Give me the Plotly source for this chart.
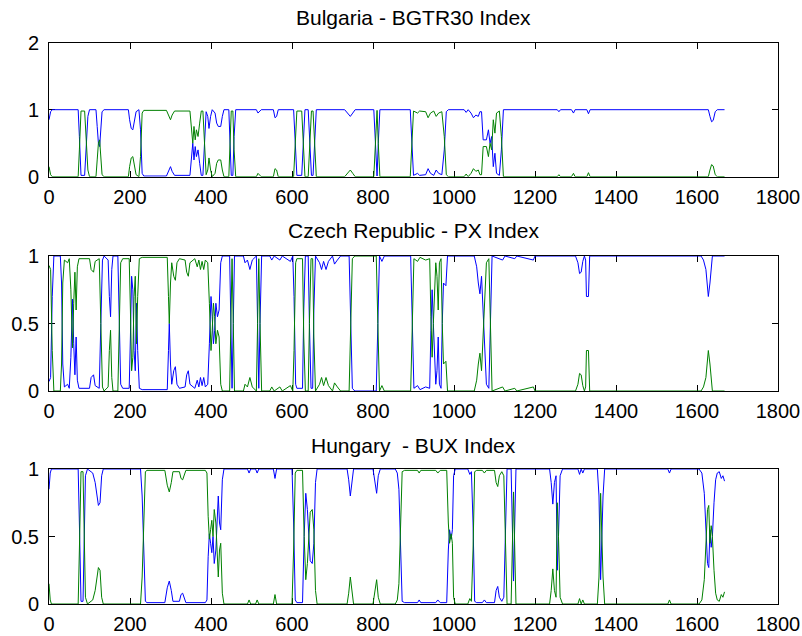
import plotly.graph_objects as go

# Smoothed regime probabilities (blue = regime 1); regime 2 (green) is its complement
titles = ["Bulgaria - BGTR30 Index", "Czech Republic - PX Index", "Hungary  - BUX Index"]

x_ticks = [0, 200, 400, 600, 800, 1000, 1200, 1400, 1600, 1800]

bulgaria = [(0,0.85),(4,0.97),(8,1),(72,1),(75,0.6),(79,0.02),(88,0.02),(92,0.5),(96,0.9),(100,1),(116,1),(119,0.75),(122,0.5),(125,0.45),(128,0.7),(131,0.97),(136,1),(196,1),(199,0.85),(203,0.72),(207,0.7),(211,0.85),(215,0.97),(222,1),(226,0.7),(230,0.05),(234,0.01),(290,0.01),(296,0.1),(300,0.15),(304,0.08),(310,0.02),(348,0.02),(352,0.35),(355,0.5),(358,0.25),(361,0.45),(364,0.3),(368,0.4),(372,0.2),(376,0.02),(380,0.02),(384,0.6),(388,0.97),(392,0.9),(395,0.72),(399,0.9),(403,1),(410,0.95),(414,0.8),(418,0.75),(424,0.75),(428,0.9),(432,1),(444,1),(447,0.5),(450,0.02),(454,0.02),(457,0.6),(461,1),(512,1),(516,0.95),(520,0.97),(524,1),(554,1),(558,0.88),(562,0.9),(566,1),(604,1),(608,0.6),(612,0.02),(624,0.02),(628,0.6),(632,1),(640,1),(644,0.5),(648,0.02),(652,0.02),(656,0.6),(660,1),(730,1),(738,0.95),(744,0.9),(750,0.95),(756,1),(802,1),(806,0.5),(810,0.01),(813,0.5),(817,1),(892,1),(896,0.5),(900,0.02),(910,0.05),(915,0.02),(930,0.03),(936,0.12),(942,0.05),(950,0.02),(956,0.1),(962,0.05),(970,0.03),(976,0.4),(981,0.97),(986,1),(1025,1),(1030,0.96),(1035,1),(1042,0.95),(1048,0.88),(1054,0.92),(1060,0.9),(1064,0.97),(1068,0.97),(1072,0.55),(1080,0.55),(1085,0.7),(1089,0.5),(1093,0.6),(1097,0.15),(1101,0.35),(1105,0.05),(1112,0.02),(1117,0.4),(1122,1),(1255,1),(1259,0.97),(1263,1),(1290,1),(1295,0.95),(1299,1),(1328,1),(1332,0.94),(1336,1),(1628,1),(1632,0.9),(1636,0.82),(1640,0.84),(1645,0.97),(1650,1),(1668,1)]

czech = [(0,0.07),(4,0.1),(8,0.7),(12,1),(28,1),(31,0.8),(34,0.2),(38,0.03),(46,0.05),(50,0.02),(54,0.25),(58,0.68),(61,0.35),(64,0.12),(67,0.4),(70,0.08),(74,0.02),(100,0.02),(104,0.1),(110,0.12),(114,0.04),(124,0.02),(128,0.5),(132,0.97),(136,1),(146,0.97),(149,0.7),(152,0.55),(155,0.9),(158,1),(170,1),(173,0.6),(177,0.05),(182,0.02),(198,0.02),(201,0.4),(204,0.85),(207,0.75),(210,0.3),(213,0.15),(216,0.65),(219,0.3),(223,0.02),(230,0.01),(292,0.01),(295,0.3),(297,0.5),(300,0.2),(303,0.05),(308,0.15),(312,0.18),(316,0.05),(322,0.02),(336,0.03),(340,0.12),(344,0.15),(348,0.05),(360,0.02),(366,0.08),(370,0.03),(374,0.1),(378,0.04),(382,0.1),(386,0.03),(392,0.05),(396,0.35),(400,0.7),(403,0.55),(406,0.35),(409,0.45),(412,0.65),(416,0.55),(420,0.6),(424,0.95),(428,1),(446,1),(449,0.5),(452,0.02),(455,0.5),(458,1),(480,1),(484,0.95),(490,0.97),(496,0.9),(502,0.97),(512,1),(515,0.5),(518,0.02),(521,0.5),(525,1),(545,1),(550,0.97),(556,1),(570,0.97),(576,1),(596,0.96),(602,1),(605,0.7),(609,0.05),(612,0.02),(626,0.02),(629,0.6),(633,1),(640,1),(643,0.5),(647,0.02),(651,0.02),(654,0.6),(658,1),(668,0.95),(673,0.9),(678,0.96),(684,0.9),(690,0.96),(700,1),(705,0.94),(712,0.97),(720,1),(741,1),(745,0.5),(749,0.02),(755,0),(808,0),(812,0.5),(816,1),(822,0.96),(828,1),(893,1),(897,0.5),(901,0.02),(910,0.04),(916,0.01),(930,0.03),(940,0.02),(943,0.45),(946,0.75),(949,0.5),(952,0.3),(955,0.05),(958,0.15),(961,0.4),(964,0.05),(968,0.02),(971,0.5),(974,0.8),(980,0.78),(984,1),(1050,1),(1056,0.92),(1060,0.8),(1064,0.72),(1068,0.85),(1072,0.55),(1076,0.3),(1080,0.05),(1086,0.02),(1090,0.6),(1094,1),(1120,0.97),(1126,1),(1150,0.98),(1155,1),(1196,0.97),(1200,1),(1300,1),(1306,0.95),(1310,0.87),(1314,0.88),(1318,0.96),(1322,1),(1325,0.97),(1327,0.7),(1332,0.7),(1335,1),(1610,1),(1616,0.97),(1622,0.9),(1628,0.7),(1632,0.8),(1638,1),(1668,1)]

hungary = [(0,0.85),(3,0.97),(6,1),(72,1),(75,0.6),(79,0.02),(84,0.02),(87,0.6),(90,0.95),(95,1),(108,0.97),(114,0.9),(118,0.8),(122,0.73),(126,0.75),(130,0.95),(134,1),(226,1),(230,0.8),(234,0.3),(238,0.02),(242,0.01),(286,0.01),(292,0.12),(297,0.17),(302,0.1),(306,0.02),(322,0.02),(326,0.07),(330,0.08),(334,0.04),(338,0.01),(386,0.01),(390,0.03),(393,0.35),(396,0.52),(399,0.45),(402,0.38),(405,0.5),(408,0.3),(412,0.4),(415,0.65),(418,0.8),(421,0.6),(424,0.55),(428,0.92),(432,1),(490,1),(494,0.97),(498,1),(510,1),(514,0.97),(518,1),(554,1),(558,0.93),(562,1),(600,1),(604,0.6),(608,0.03),(612,0.01),(626,0.01),(630,0.5),(634,0.82),(638,0.7),(642,0.5),(645,0.32),(650,0.3),(654,0.45),(658,0.9),(662,1),(736,1),(740,0.92),(744,0.8),(748,0.92),(752,1),(800,1),(805,0.9),(809,0.82),(813,0.95),(818,1),(855,1),(860,0.97),(864,0.85),(868,0.4),(872,0.02),(878,0.01),(910,0.01),(914,0.03),(918,0.01),(955,0.01),(960,0.03),(966,0.01),(982,0.01),(986,0.4),(989,0.55),(993,0.48),(996,0.55),(999,0.95),(1003,1),(1034,1),(1039,0.96),(1043,0.98),(1047,0.6),(1051,0.02),(1056,0.01),(1070,0.01),(1075,0.03),(1080,0.01),(1100,0.01),(1104,0.1),(1108,0.13),(1112,0.05),(1118,0.02),(1123,0.05),(1127,0.6),(1131,1),(1141,1),(1144,0.6),(1147,0.17),(1150,0.6),(1153,1),(1236,1),(1240,0.9),(1244,0.74),(1248,0.9),(1252,0.95),(1255,0.25),(1258,0.5),(1262,0.95),(1268,1),(1306,1),(1310,0.96),(1314,1),(1318,0.97),(1322,1),(1354,1),(1358,0.8),(1362,0.18),(1365,0.5),(1368,0.8),(1372,1),(1528,1),(1532,0.97),(1536,1),(1605,1),(1612,0.97),(1618,0.82),(1622,0.6),(1626,0.3),(1629,0.27),(1632,0.55),(1635,0.42),(1638,0.5),(1642,0.75),(1646,0.92),(1650,0.97),(1655,0.98),(1660,0.93),(1664,0.95),(1668,0.91)]

y_ranges = [[0, 2], [0, 1], [0, 1]]
y_ticks = [[0, 1, 2], [0, 0.5, 1], [0, 0.5, 1]]
y_ticktext = [["0", "1", "2"], ["0", "0.5", "1"], ["0", "0.5", "1"]]

W, H = 802, 636
px_left, px_right = 49, 778
px_tops = [42.7, 256, 469]
px_bottoms = [176.7, 391, 604]
title_y = [17, 230, 445]

fig = go.Figure()
font = "Liberation Sans, Arial, sans-serif"

for i, data in enumerate([bulgaria, czech, hungary]):
    t = [p[0] for p in data]
    blue = [p[1] for p in data]
    green = [round(1 - v, 3) for v in blue]
    ax = "" if i == 0 else str(i + 1)
    fig.add_trace(go.Scatter(x=t, y=blue, mode="lines", line=dict(color="#0000FF", width=1),
                             xaxis="x" + ax, yaxis="y" + ax, hoverinfo="skip", showlegend=False))
    fig.add_trace(go.Scatter(x=t, y=green, mode="lines", line=dict(color="#008000", width=1),
                             xaxis="x" + ax, yaxis="y" + ax, hoverinfo="skip", showlegend=False))
    common = dict(showline=True, linecolor="black", linewidth=1, mirror="ticks",
                  ticks="inside", ticklen=6, tickcolor="black", tickwidth=1,
                  showgrid=False, zeroline=False, layer="below traces",
                  tickfont=dict(family=font, size=20, color="black"), automargin=False)
    fig.layout["xaxis" + ax] = dict(domain=[px_left / W, px_right / W], range=[0, 1800],
                                    tickvals=x_ticks, anchor="y" + ax, ticklabelstandoff=2, **common)
    fig.layout["yaxis" + ax] = dict(domain=[1 - px_bottoms[i] / H, 1 - px_tops[i] / H],
                                    range=y_ranges[i], tickvals=y_ticks[i], ticktext=y_ticktext[i],
                                    anchor="x" + ax, ticklabelstandoff=5, **common)
    fig.add_annotation(text=titles[i], x=(px_left + px_right) / 2 / W, y=1 - title_y[i] / H,
                       xref="paper", yref="paper", xanchor="center", yanchor="middle",
                       showarrow=False, font=dict(family=font, size=21, color="black"))

fig.update_layout(width=W, height=H, margin=dict(l=0, r=0, t=0, b=0),
                  paper_bgcolor="white", plot_bgcolor="white")
fig.write_html("out.html")
